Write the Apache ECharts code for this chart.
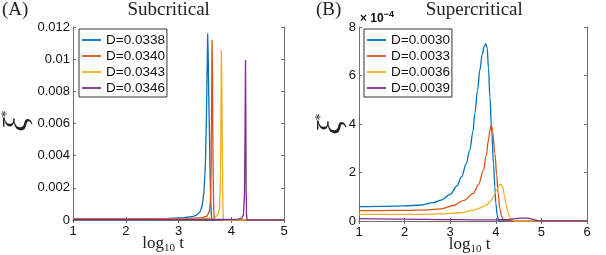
<!DOCTYPE html>
<html><head><meta charset="utf-8">
<script src="https://cdn.jsdelivr.net/npm/echarts@6/dist/echarts.min.js"></script>
<style>html,body{margin:0;padding:0;background:#fff}#c{width:606px;height:255px}</style>
</head><body><div id="c"></div>
<script>
// ---- Panel A (Subcritical): x = log10 t, y = xi*
const namesA = ['D=0.0338', 'D=0.0340', 'D=0.0343', 'D=0.0346'];
const a0338 = [[1,0.00008],[2,0.00009],[2.8,0.0001],[3.1,0.00014],[3.28,0.00022],[3.36,0.00035],[3.41,0.00052],[3.45,0.0009],[3.483,0.00176],[3.51,0.0035],[3.53,0.0065],[3.545,0.0098],[3.553,0.0116],[3.562,0.0103],[3.575,0.0075],[3.584,0.0059],[3.6,0.0028],[3.615,0.0008],[3.63,0],[5,0]];
const a0340 = [[1,0.00007],[2.5,0.00008],[3.2,0.0001],[3.45,0.00015],[3.535,0.00022],[3.584,0.00052],[3.605,0.0012],[3.618,0.003],[3.627,0.0065],[3.635,0.0112],[3.643,0.0095],[3.65,0.006],[3.66,0.0018],[3.67,0.0005],[3.68,0],[5,0]];
const a0343 = [[1,0.00005],[3,0.00006],[3.5,0.00008],[3.69,0.00015],[3.74,0.0003],[3.774,0.00062],[3.79,0.0018],[3.8,0.0045],[3.807,0.008],[3.812,0.01057],[3.82,0.009],[3.83,0.005],[3.84,0.0012],[3.85,0],[5,0]];
const a0346 = [[1,0.00003],[3.5,0.00003],[4.0,0.00004],[4.13,0.00005],[4.2,0.00012],[4.23,0.0003],[4.25,0.0015],[4.262,0.0055],[4.27,0.00995],[4.276,0.007],[4.282,0.002],[4.29,0.0003],[4.3,0],[5,0]];
const xTicksA = {min: 1, max: 5, interval: 1};
const yTicksA = {min: 0, max: 0.012, interval: 0.002};

// ---- Panel B (Supercritical)
const namesB = ['D=0.0030', 'D=0.0033', 'D=0.0036', 'D=0.0039'];
const b0030 = [[1,0.59e-4],[1.5,0.60e-4],[2.0,0.62e-4],[2.34,0.66e-4],[2.63,0.76e-4],[2.8,0.86e-4],[3.0,1.1e-4],[3.15,1.45e-4],[3.25,1.83e-4],[3.35,2.35e-4],[3.43,2.93e-4],[3.5,3.7e-4],[3.54,4.44e-4],[3.6,5.4e-4],[3.65,6.23e-4],[3.7,6.85e-4],[3.75,7.22e-4],[3.78,7.30e-4],[3.81,7.15e-4],[3.84,6.3e-4],[3.87,5.13e-4],[3.91,3.7e-4],[3.95,2.38e-4],[3.98,1.4e-4],[4.0,0.74e-4],[4.03,0.25e-4],[4.06,0.02e-4],[4.1,0],[6,0]];
const b0033 = [[1,0.43e-4],[1.5,0.43e-4],[2.0,0.44e-4],[2.5,0.46e-4],[2.8,0.5e-4],[3.07,0.64e-4],[3.3,0.85e-4],[3.51,1.14e-4],[3.62,1.5e-4],[3.73,2.10e-4],[3.79,2.7e-4],[3.84,3.34e-4],[3.87,3.75e-4],[3.90,3.96e-4],[3.93,3.7e-4],[3.98,2.79e-4],[4.02,1.9e-4],[4.05,1.14e-4],[4.09,0.5e-4],[4.13,0.18e-4],[4.18,0.03e-4],[4.22,0],[6,0]];
const b0036 = [[1,0.27e-4],[2.0,0.27e-4],[2.34,0.27e-4],[2.8,0.29e-4],[3.21,0.34e-4],[3.5,0.44e-4],[3.65,0.53e-4],[3.8,0.66e-4],[3.9,0.85e-4],[3.96,1.05e-4],[4.02,1.28e-4],[4.07,1.46e-4],[4.11,1.51e-4],[4.15,1.42e-4],[4.19,1.05e-4],[4.22,0.73e-4],[4.26,0.4e-4],[4.30,0.18e-4],[4.36,0.05e-4],[4.42,0],[6,0]];
const b0039 = [[1,0.10e-4],[2.0,0.08e-4],[3.0,0.06e-4],[3.5,0.05e-4],[4.0,0.05e-4],[4.2,0.06e-4],[4.35,0.08e-4],[4.5,0.11e-4],[4.62,0.12e-4],[4.72,0.11e-4],[4.8,0.08e-4],[4.88,0.03e-4],[4.95,0.005e-4],[5.0,0],[6,0]];
const xTicksB = {min: 1, max: 6, interval: 1};
const yTicksB = {min: 0, max: 8e-4, interval: 2e-4};
const yScaleB = 1e4; // tick labels shown in units of 10^-4

const colors = ['#0072BD', '#D95319', '#EDB120', '#7E2F8E'];
const AX = '#6e6e6e';
const SANS = 'Liberation Sans, Arial, sans-serif';
const SERIF = 'Liberation Serif, Times New Roman, serif';

function xAxes(grid, t, nameShift) {
  return [
    {type: 'value', gridIndex: grid, position: 'bottom', min: t.min, max: t.max, interval: t.interval,
     axisLine: {lineStyle: {color: AX, width: 1}}, axisTick: {inside: true, length: 3, lineStyle: {color: AX}},
     axisLabel: {margin: 5, color: '#111', fontFamily: SANS, fontSize: 13}, splitLine: {show: false},
     name: '{a|log}{s|10}{a| t}', nameLocation: 'middle', nameGap: 15, nameMoveOverlap: false,
     nameTextStyle: {padding: [0, nameShift, 0, 0], rich: {
       a: {fontFamily: SERIF, fontSize: 17, lineHeight: 18, color: '#222'},
       s: {fontFamily: SERIF, fontSize: 11, lineHeight: 10, padding: [8, 0, 0, 0], color: '#222'}}}},
    {type: 'value', gridIndex: grid, position: 'top', min: t.min, max: t.max, interval: t.interval,
     axisLine: {lineStyle: {color: AX, width: 1}}, axisTick: {inside: true, length: 3, lineStyle: {color: AX}},
     axisLabel: {show: false}, splitLine: {show: false}}
  ];
}
function yAxes(grid, t, fmt) {
  return [
    {type: 'value', gridIndex: grid, position: 'left', min: t.min, max: t.max, interval: t.interval,
     axisLine: {show: true, lineStyle: {color: AX, width: 1}}, axisTick: {show: true, inside: true, length: 3, lineStyle: {color: AX}},
     axisLabel: {margin: 3, color: '#111', fontFamily: SANS, fontSize: 13, formatter: fmt}, splitLine: {show: false}},
    {type: 'value', gridIndex: grid, position: 'right', min: t.min, max: t.max, interval: t.interval,
     axisLine: {show: true, lineStyle: {color: AX, width: 1}}, axisTick: {show: true, inside: true, length: 3, lineStyle: {color: AX}},
     axisLabel: {show: false}, splitLine: {show: false}}
  ];
}
function yName(cx, cy) {
  return {type: 'text', x: cx, y: cy, rotation: Math.PI / 2, silent: true,
    style: {text: '{x|ξ}{s|*}', align: 'center', verticalAlign: 'middle',
      textAlign: 'center', textVerticalAlign: 'middle', fill: '#222',
      rich: {
        x: {fontFamily: SERIF, fontStyle: 'italic', fontSize: 33, lineHeight: 32, fill: '#222', color: '#222'},
        s: {fontFamily: SERIF, fontSize: 14, lineHeight: 10, padding: [0, 0, 22, 0], fill: '#222', color: '#222'}}}};
}
function mk(name, data, ci, xi, yi, smooth) {
  return {type: 'line', name, data, xAxisIndex: xi, yAxisIndex: yi, showSymbol: false, symbol: 'none',
    smooth: smooth, smoothMonotone: 'x', lineStyle: {color: colors[ci], width: 1.3}, itemStyle: {color: colors[ci]},
    animation: false};
}
const legendBase = {orient: 'vertical', icon: 'rect', itemWidth: 19, itemHeight: 1.8, itemGap: 0,
  backgroundColor: '#fff', borderColor: '#333', borderWidth: 1, padding: [3, 2, 1, 3],
  textStyle: {fontFamily: SANS, fontSize: 13.5, lineHeight: 16, color: '#111'}};

const seriesA = [a0338, a0340, a0343, a0346];
const seriesB = [b0030, b0033, b0036, b0039];
const titleStyle = {fontFamily: SERIF, fontSize: 19, fontWeight: 'normal', color: '#222'};

const option = {
  animation: false,
  backgroundColor: '#fff',
  title: [
    {text: '(A)', left: 2, top: 1, padding: 0, textStyle: titleStyle},
    {text: 'Subcritical', left: 168.7, top: 1, padding: 0, textAlign: 'center', textStyle: titleStyle},
    {text: '(B)', left: 316, top: 1, padding: 0, textStyle: titleStyle},
    {text: 'Supercritical', left: 474.3, top: 1, padding: 0, textAlign: 'center', textStyle: titleStyle},
    {text: '{a|× 10}{b|−4}', left: 360, top: 11, padding: 0, textStyle: {rich: {
      a: {fontFamily: SANS, fontSize: 12, lineHeight: 16, color: '#111'},
      b: {fontFamily: SANS, fontSize: 9, lineHeight: 9, padding: [0, 0, 9, 0], color: '#111'}}}}
  ],
  graphic: [yName(18, 121), yName(332, 124)],
  grid: [
    {left: 73, top: 27, width: 211, height: 193, outerBoundsMode: 'none', containLabel: false},
    {left: 359, top: 27, width: 228, height: 194, outerBoundsMode: 'none', containLabel: false}
  ],
  xAxis: [...xAxes(0, xTicksA, 31), ...xAxes(1, xTicksB, 7)],
  yAxis: [...yAxes(0, yTicksA, null), ...yAxes(1, yTicksB, v => String(Math.round(v * yScaleB)))],
  legend: [
    Object.assign({}, legendBase, {left: 79, top: 29, data: namesA}),
    Object.assign({}, legendBase, {left: 364, top: 29, data: namesB})
  ],
  series: [
    ...seriesA.map((d, i) => mk(namesA[i], d, i, 0, 0, false)),
    ...seriesB.map((d, i) => mk(namesB[i], d, i, 2, 2, 0.35))
  ]
};
const chart = echarts.init(document.getElementById('c'), null, {renderer: 'canvas'});
chart.setOption(option);
</script></body></html>
